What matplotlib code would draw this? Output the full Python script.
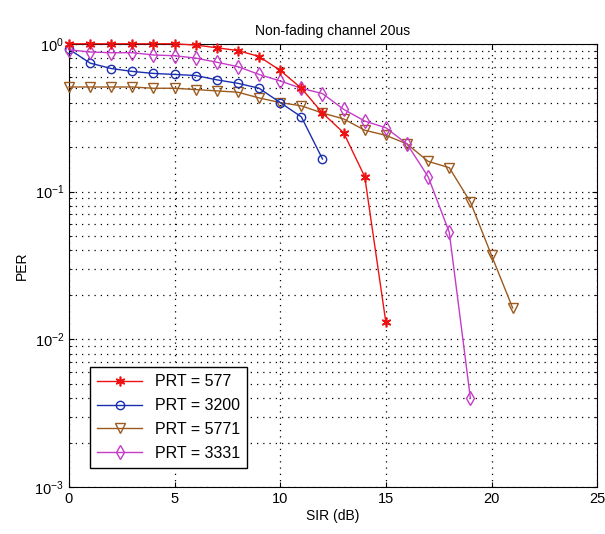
import numpy as np
import matplotlib
matplotlib.use('Agg')
from matplotlib import pyplot as plt
from matplotlib.ticker import LogLocator, NullFormatter

plt.rcParams['font.family'] = ['Liberation Sans', 'DejaVu Sans']

# ~~~~~~~~~~~~~~~~~~~~~~ data ~~~~~~~~~~~~~~~~~~~~~~
sir_577 = list(range(0, 16))
per_577 = [1.0, 1.0, 1.0, 1.0, 1.0, 1.0, 0.98, 0.94, 0.90, 0.82, 0.66, 0.50,
           0.34, 0.25, 0.126, 0.013]

sir_3200 = list(range(0, 13))
per_3200 = [0.92, 0.74, 0.68, 0.65, 0.63, 0.62, 0.61, 0.57, 0.54, 0.50, 0.40,
            0.32, 0.166]

sir_5771 = list(range(0, 22))
per_5771 = [0.51, 0.51, 0.51, 0.51, 0.50, 0.50, 0.49, 0.48, 0.47, 0.43, 0.40,
            0.38, 0.34, 0.31, 0.26, 0.24, 0.21, 0.16, 0.145, 0.085, 0.037, 0.0163]

sir_3331 = list(range(0, 20))
per_3331 = [0.91, 0.88, 0.87, 0.87, 0.84, 0.83, 0.80, 0.75, 0.70, 0.62, 0.56,
            0.50, 0.46, 0.36, 0.30, 0.27, 0.21, 0.126, 0.053, 0.004]

labels = ['PRT = 577', 'PRT = 3200', 'PRT = 5771', 'PRT = 3331']

fig = plt.figure(figsize=(6.05, 5.34), dpi=100)
ax = fig.add_axes([0.114, 0.088, 0.873, 0.830])

# matlab-ish asterisk for the first curve
ax.semilogy(sir_577, per_577, color='#ee1111', marker=(6, 2, 0), markersize=7, mew=1.2, lw=1,
            label=labels[0], clip_on=False, zorder=5)
ax.semilogy(sir_3200, per_3200, color='#1a2fb0', marker='o', mfc='none', markersize=6, lw=1,
            label=labels[1], clip_on=False, zorder=4)
ax.semilogy(sir_5771, per_5771, color='#9c5a1e', marker='v', mfc='none', markersize=7, lw=1,
            label=labels[2], clip_on=False, zorder=3)
ax.semilogy(sir_3331, per_3331, color='#c43cc8', marker='d', mfc='none', markersize=7.5, lw=1,
            label=labels[3], clip_on=False, zorder=4)

ax.set_xlim(0, 25)
ax.set_ylim(1e-3, 1)
ax.set_xticks([0, 5, 10, 15, 20, 25])
ax.yaxis.set_major_locator(LogLocator(base=10, numticks=10))
ax.yaxis.set_minor_locator(LogLocator(base=10, subs=np.arange(2, 10), numticks=10))
ax.yaxis.set_minor_formatter(NullFormatter())
ax.tick_params(which='both', direction='in', top=True, right=True, labelsize=10.5)
ax.grid(True, which='major', ls=(0, (1, 4)), color='k', lw=0.9)
ax.grid(True, which='minor', axis='y', ls=(0, (1, 4)), color='k', lw=0.9)

ax.set_xlabel('SIR (dB)', fontsize=10, labelpad=2)
ax.set_ylabel('PER', fontsize=10)
ax.set_title('Non-fading channel 20us', fontsize=10)

leg = ax.legend(loc='lower left', bbox_to_anchor=(0.04, 0.043), borderaxespad=0,
                fancybox=False, edgecolor='k', framealpha=1, fontsize=11.5,
                handlelength=2.8, borderpad=0.45, labelspacing=0.55)
leg.get_frame().set_linewidth(1)
leg.set_zorder(10)

plt.savefig('out.png', dpi=100)
